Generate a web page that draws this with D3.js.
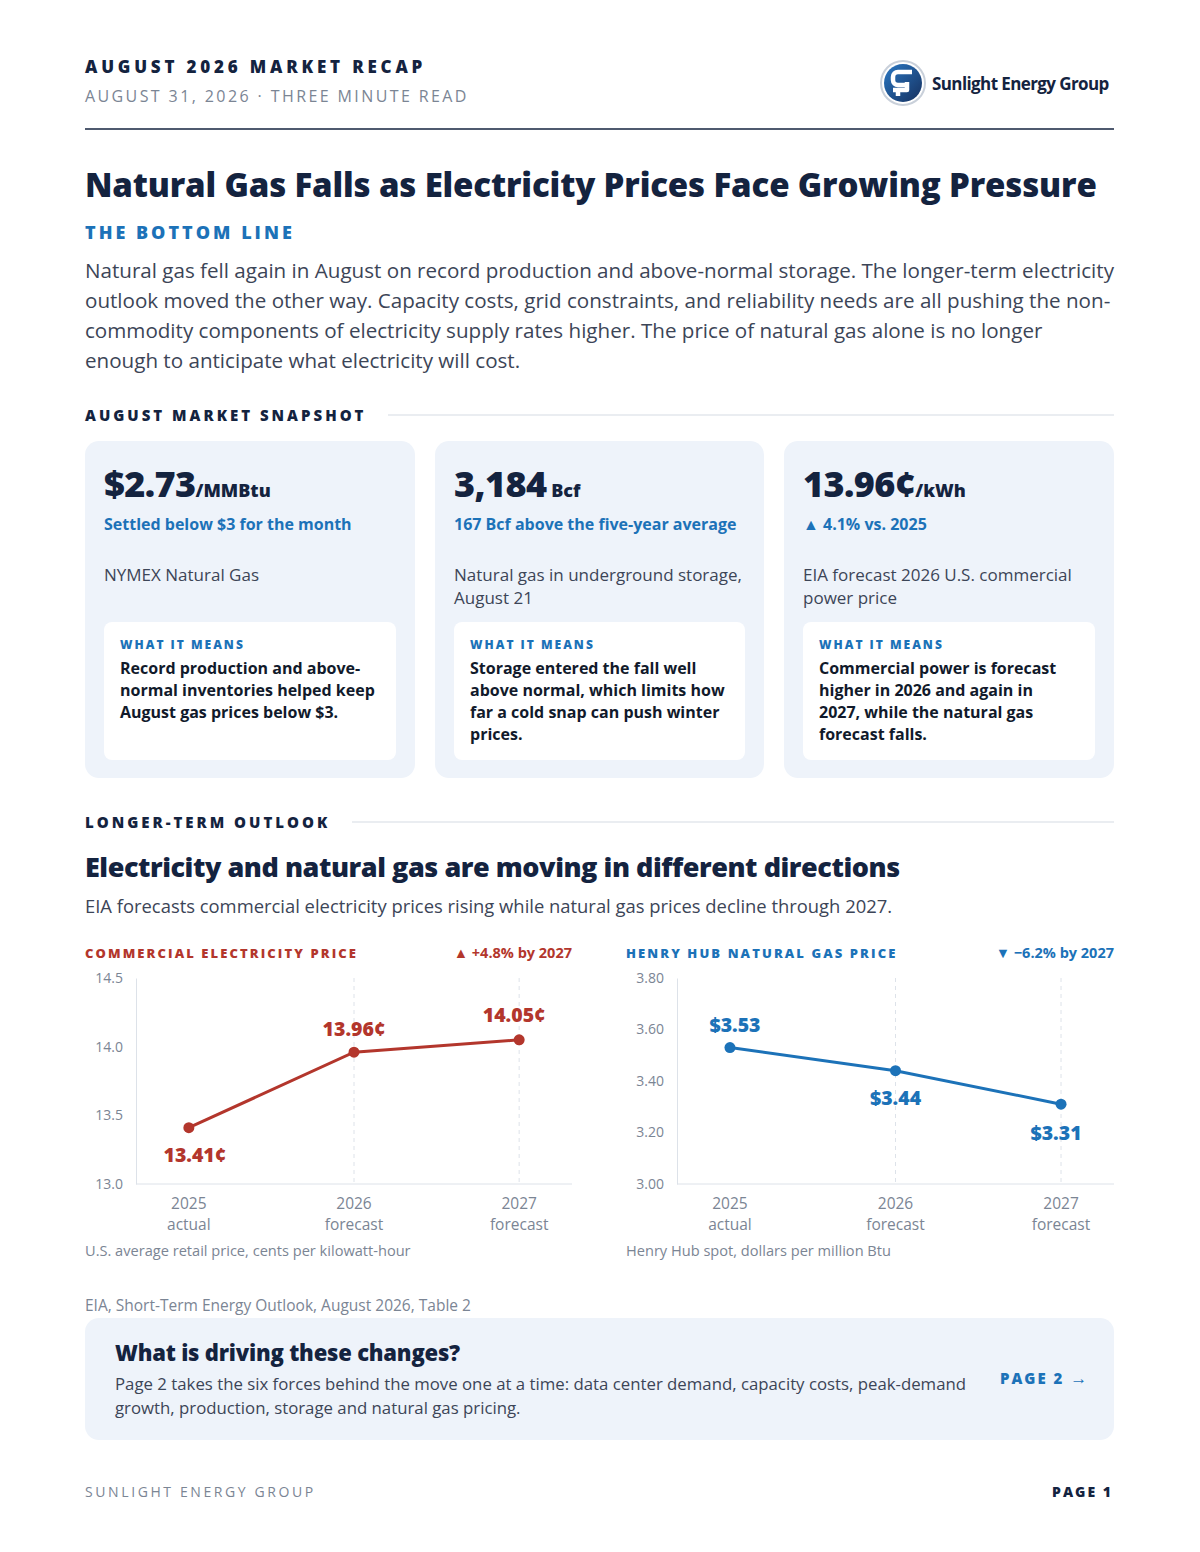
<!DOCTYPE html>
<html><head><meta charset="utf-8">
<script src="https://cdn.jsdelivr.net/npm/d3@7"></script>
<style>body{margin:0;background:#fff}svg{display:block;font-family:"Open Sans",sans-serif}</style>
</head><body><svg id="c" width="1200" height="1552"></svg>
<script>
const years=["2025","2026","2027"];
const yearNotes=["actual","forecast","forecast"];
const elecValues=[13.41,13.96,14.05];
const elecTicks=[13.0,13.5,14.0,14.5];
const gasValues=[3.53,3.44,3.31];
const gasTicks=[3.00,3.20,3.40,3.60,3.80];

const NAVY="#14233f",BLUE="#1c72b8",RED="#b3362c",GRAY="#7b8594",TXT="#3c4557",BG="#eef3fa";
const svg=d3.select("#c");
function t(x,y,s,o={}){const e=svg.append("text").attr("x",x).attr("y",y).text(s)
 .attr("font-size",o.size||16).attr("fill",o.fill||NAVY).attr("font-weight",o.w||400)
 .attr("letter-spacing",o.ls||0).attr("text-anchor",o.a||"start");return e;}

// header
t(85,73,"AUGUST 2026 MARKET RECAP",{size:17,w:800,ls:3.8});
t(85,102,"AUGUST 31, 2026 · THREE MINUTE READ",{size:16,fill:GRAY,ls:2.4});
// logo
const defs=svg.append("defs");
const g=defs.append("linearGradient").attr("id","lg").attr("x1",0).attr("y1",0).attr("x2",1).attr("y2",1);
g.append("stop").attr("offset",0).attr("stop-color","#2a78c4");g.append("stop").attr("offset",1).attr("stop-color","#16305e");
svg.append("circle").attr("cx",903).attr("cy",83).attr("r",22).attr("fill","#fff").attr("stroke","#c9d0da").attr("stroke-width",2);
svg.append("circle").attr("cx",903).attr("cy",83).attr("r",19).attr("fill","url(#lg)");
svg.append("path").attr("d","M912,72 H898 a5,5 0 0 0 -5,5 v3 a5,5 0 0 0 5,5 h9 v5 h-14 M898,96 v-6 M907,85 v-3")
 .attr("fill","none").attr("stroke","#fff").attr("stroke-width",4.5).attr("stroke-linejoin","round");
t(932,90,"Sunlight Energy Group",{size:17,w:700,ls:-0.6});
svg.append("line").attr("x1",85).attr("x2",1114).attr("y1",129).attr("y2",129).attr("stroke",NAVY).attr("stroke-width",1.5);

t(85,197,"Natural Gas Falls as Electricity Prices Face Growing Pressure",{size:33,w:800,ls:-0.15});
t(85,239,"THE BOTTOM LINE",{size:18,w:800,fill:BLUE,ls:3});
["Natural gas fell again in August on record production and above-normal storage. The longer-term electricity",
 "outlook moved the other way. Capacity costs, grid constraints, and reliability needs are all pushing the non-",
 "commodity components of electricity supply rates higher. The price of natural gas alone is no longer",
 "enough to anticipate what electricity will cost."].forEach((s,i)=>t(85,278+i*30,s,{size:20.6,fill:TXT}));

function section(y,label,lx){t(85,y,label,{size:15,w:800,ls:3});
 svg.append("line").attr("x1",lx).attr("x2",1114).attr("y1",y-6).attr("y2",y-6).attr("stroke","#d5dbe3");}
section(421,"AUGUST MARKET SNAPSHOT",388);

const cards=[
 {x:85,w:330,big:"$2.73",unit:"/MMBtu",sub:"Settled below $3 for the month",desc:["NYMEX Natural Gas"],
  means:["Record production and above-","normal inventories helped keep","August gas prices below $3."]},
 {x:435,w:329,big:"3,184",unit:" Bcf",sub:"167 Bcf above the five-year average",desc:["Natural gas in underground storage,","August 21"],
  means:["Storage entered the fall well","above normal, which limits how","far a cold snap can push winter","prices."]},
 {x:784,w:330,big:"13.96¢",unit:"/kWh",sub:"▲ 4.1% vs. 2025",desc:["EIA forecast 2026 U.S. commercial","power price"],
  means:["Commercial power is forecast","higher in 2026 and again in","2027, while the natural gas","forecast falls."]}];
cards.forEach(c=>{
 svg.append("rect").attr("x",c.x).attr("y",441).attr("width",c.w).attr("height",337).attr("rx",14).attr("fill",BG);
 const e=t(c.x+19,497,c.big,{size:36,w:800,ls:-0.6});
 e.append("tspan").text(c.unit).attr("font-size",18).attr("letter-spacing",0);
 t(c.x+19,530,c.sub,{size:16,w:700,fill:BLUE});
 c.desc.forEach((s,i)=>t(c.x+19,581+i*23,s,{size:17,fill:TXT}));
 svg.append("rect").attr("x",c.x+19).attr("y",622).attr("width",c.w-38).attr("height",138).attr("rx",8).attr("fill","#fff");
 t(c.x+35,649,"WHAT IT MEANS",{size:12,w:800,fill:BLUE,ls:2});
 c.means.forEach((s,i)=>t(c.x+35,674+i*22,s,{size:16,w:700,fill:"#111a2b"}));
});

section(828,"LONGER-TERM OUTLOOK",352);
t(85,877,"Electricity and natural gas are moving in different directions",{size:27,w:800,ls:-0.45});
t(85,913,"EIA forecasts commercial electricity prices rising while natural gas prices decline through 2027.",{size:18.4,fill:TXT});

function chart(o){
 const x=d3.scalePoint().domain(years).range([o.x0,o.x1]).padding(0.32);
 const y=d3.scaleLinear().domain(o.dom).range([1184,978]);
 t(o.tx,958,o.title,{size:13,w:800,fill:o.col,ls:2.1});
 t(o.x1,958,o.badge,{size:14.5,w:700,fill:o.col,a:"end"});
 years.slice(1).forEach(d=>svg.append("line").attr("x1",x(d)).attr("x2",x(d)).attr("y1",978).attr("y2",1184)
  .attr("stroke","#dde2e9").attr("stroke-dasharray","4,4"));
 const ax=svg.append("g").attr("transform",`translate(${o.x0},0)`).call(d3.axisLeft(y).tickValues(o.ticks).tickFormat(o.fmt).tickSize(0).tickPadding(13));
 ax.select(".domain").attr("stroke","#dde2e9");
 ax.selectAll("text").attr("font-size",14).attr("fill",GRAY).attr("font-family","Open Sans");
 const bx=svg.append("g").attr("transform","translate(0,1184)").call(d3.axisBottom(x).tickSize(0).tickFormat(""));
 bx.select(".domain").attr("stroke","#dde2e9").attr("d",`M${o.x0},0H${o.x1}`);
 years.forEach((d,i)=>{t(x(d),1209,d,{size:15.5,fill:GRAY,a:"middle"});t(x(d),1230,yearNotes[i],{size:15.5,fill:GRAY,a:"middle"});});
 svg.append("path").datum(o.vals).attr("fill","none").attr("stroke",o.col).attr("stroke-width",3)
  .attr("d",d3.line().x((d,i)=>x(years[i])).y(d=>y(d)));
 o.vals.forEach((v,i)=>{svg.append("circle").attr("cx",x(years[i])).attr("cy",y(v)).attr("r",5.5).attr("fill",o.col);
  t(x(years[i])+o.dx[i],y(v)+o.off[i],o.lab(v),{size:19.5,w:800,fill:o.col,a:"middle"});});
 t(o.tx,1256,o.note,{size:14.6,fill:GRAY});
}
chart({x0:136,x1:572,tx:85,dom:[13,14.5],ticks:elecTicks,fmt:d3.format(".1f"),vals:elecValues,col:RED,
 title:"COMMERCIAL ELECTRICITY PRICE",badge:"▲ +4.8% by 2027",off:[34,-16,-18],dx:[6,0,-5],lab:v=>v.toFixed(2)+"¢",
 note:"U.S. average retail price, cents per kilowatt-hour"});
chart({x0:677,x1:1114,tx:626,dom:[3,3.8],ticks:gasTicks,fmt:d3.format(".2f"),vals:gasValues,col:BLUE,
 title:"HENRY HUB NATURAL GAS PRICE",badge:"▼ −6.2% by 2027",off:[-16,34,36],dx:[5,0,-5],lab:v=>"$"+v.toFixed(2),
 note:"Henry Hub spot, dollars per million Btu"});

t(85,1311,"EIA, Short-Term Energy Outlook, August 2026, Table 2",{size:15.5,fill:GRAY});
svg.append("rect").attr("x",85).attr("y",1318).attr("width",1029).attr("height",122).attr("rx",14).attr("fill",BG);
t(115,1361,"What is driving these changes?",{size:22,w:800,ls:-0.2});
t(115,1390,"Page 2 takes the six forces behind the move one at a time: data center demand, capacity costs, peak-demand",{size:16.8,fill:TXT});
t(115,1414,"growth, production, storage and natural gas pricing.",{size:16.8,fill:TXT});
const p2=t(1000,1384,"PAGE 2 ",{size:15,w:800,fill:BLUE,ls:2});
p2.append("tspan").text("→").attr("font-size",17).attr("letter-spacing",0);
t(85,1497,"SUNLIGHT ENERGY GROUP",{size:14,fill:GRAY,ls:2.6});
t(1113,1497,"PAGE 1",{size:14,w:800,ls:2,a:"end"});
</script></body></html>
